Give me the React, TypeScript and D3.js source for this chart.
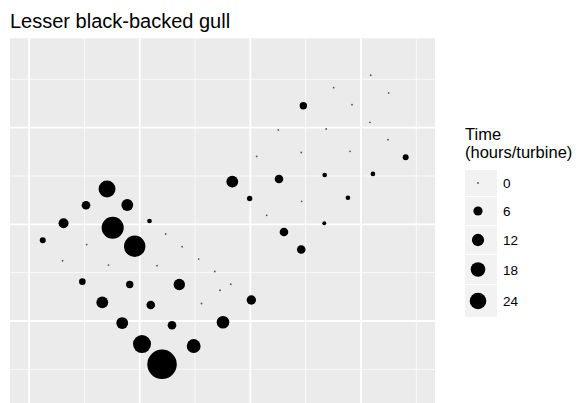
import React from "react";
import * as d3 from "d3";

const title = "Lesser black-backed gull";
const legendTitle = ["Time", "(hours/turbine)"];
const legendBreaks = [0, 6, 12, 18, 24];

const xMajor = [0, 1, 2, 3];
const xMinor = [0.5, 1.5, 2.5, 3.5];
const yMajor = [0, 1, 2];
const yMinor = [-0.5, 0.5, 1.5, 2.5];

// positions (x, y) and time (hours/turbine)
const xs = [
  1.202, 0.756, 0.955, 0.705, 1.021, 1.488, 0.888, 0.662, 0.842, 1.358,
  1.837, 0.312, 0.515, 1.1, 1.292, 1.753, 2.009, 2.304, 2.46, 2.259,
  0.91, 0.482, 2.479, 0.124, 3.404, 1.994, 1.089, 2.672, 3.108, 2.882,
  2.668,
  1.235, 0.303, 0.521, 0.718, 1.157, 1.384, 1.533, 1.679, 1.823, 1.726,
  1.559, 2.148, 2.464, 2.057, 2.46, 2.901, 2.253, 2.686, 3.244, 3.081,
  2.919, 2.753, 3.25, 3.088,
];
const ys = [
  -0.448, 0.965, 0.773, 1.365, -0.238, -0.259, 1.2, 0.193, -0.021, 0.378,
  1.441, 1.011, 1.197, 0.166, -0.044, -0.013, 0.217, 0.921, 0.74, 1.469,
  0.378, 0.407, 2.227, 0.835, 1.693, 1.267, 1.034, 1.51, 1.521, 1.275,
  1.011,
  0.9, 0.623, 0.791, 0.579, 0.572, 0.769, 0.641, 0.512, 0.38, 0.318,
  0.181, 1.093, 1.238, 1.702, 1.743, 1.755, 1.976, 1.986, 1.875, 2.055,
  2.238, 2.413, 2.359, 2.542,
];
const times = [
  84, 45, 42, 25, 29, 16, 11, 11, 11, 10,
  11, 7.4, 5.1, 5.1, 5.1, 12.8, 6.3, 5.1, 5.1, 5.1,
  3.4, 2.5, 3.4, 1.9, 1.9, 1.4, 0.9, 0.9, 0.9, 0.9,
  0.5,
  0, 0, 0, 0, 0, 0, 0, 0, 0, 0,
  0, 0, 0, 0, 0, 0, 0, 0, 0, 0,
  0, 0, 0, 0,
];

export default function App() {
  const W = 585;
  const H = 403;
  const panel = { left: 10, right: 435, top: 38.3, bottom: 403 };
  const x = d3.scaleLinear().domain([-0.172, 3.669]).range([panel.left, panel.right]);
  const y = d3.scaleLinear().domain([-0.848, 2.924]).range([panel.bottom, panel.top]);
  const r = d3.scaleSqrt().domain([0, 24]).range([0.9, 8.3]);

  const pts = xs.map((v, i) => ({ x: v, y: ys[i], t: times[i] }));

  // legend layout
  const keyX = 465;
  const keyW = 32;
  const keyHeights = [26, 28, 28, 29, 32];
  let cy = 170;
  const keys = legendBreaks.map((b, i) => {
    const h = keyHeights[i];
    const k = { b, top: cy, h, rr: r(b) };
    cy += h + 1;
    return k;
  });

  const font = "'Liberation Sans', Arial, sans-serif";

  return (
    <svg
      width={W}
      height={H}
      style={{ position: "absolute", left: 0, top: 0, background: "#fff" }}
    >
      <text x={10} y={28} fontFamily={font} fontSize={20} fill="#000">
        {title}
      </text>
      <defs>
        <clipPath id="pclip">
          <rect x={panel.left} y={panel.top} width={panel.right - panel.left} height={panel.bottom - panel.top} />
        </clipPath>
      </defs>
      <rect
        x={panel.left}
        y={panel.top}
        width={panel.right - panel.left}
        height={panel.bottom - panel.top}
        fill="#ebebeb"
      />
      <g clipPath="url(#pclip)">
        {xMinor.map((v) => (
          <line key={"xm" + v} x1={x(v)} x2={x(v)} y1={panel.top} y2={panel.bottom} stroke="#fff" strokeWidth={0.9} opacity={0.85} />
        ))}
        {yMinor.map((v) => (
          <line key={"ym" + v} y1={y(v)} y2={y(v)} x1={panel.left} x2={panel.right} stroke="#fff" strokeWidth={0.9} opacity={0.85} />
        ))}
        {xMajor.map((v) => (
          <line key={"xM" + v} x1={x(v)} x2={x(v)} y1={panel.top} y2={panel.bottom} stroke="#fff" strokeWidth={1.8} />
        ))}
        {yMajor.map((v) => (
          <line key={"yM" + v} y1={y(v)} y2={y(v)} x1={panel.left} x2={panel.right} stroke="#fff" strokeWidth={1.8} />
        ))}
        {pts.map((p, i) => (
          <circle key={i} cx={x(p.x)} cy={y(p.y)} r={r(p.t)} fill={p.t === 0 ? "#555" : "#000"} />
        ))}
      </g>
      <g fontFamily={font} fill="#000">
        <text x={465} y={140} fontSize={16.5}>{legendTitle[0]}</text>
        <text x={465} y={158} fontSize={16.5}>{legendTitle[1]}</text>
        {keys.map((k) => (
          <g key={k.b}>
            <rect x={keyX} y={k.top} width={keyW} height={k.h} fill="#f2f2f2" />
            <circle cx={keyX + keyW / 2 - 3} cy={k.top + k.h / 2} r={k.rr} fill={k.b === 0 ? "#555" : "#000"} />
            <text x={keyX + keyW + 6} y={k.top + k.h / 2 + 5} fontSize={13.5}>{k.b}</text>
          </g>
        ))}
      </g>
    </svg>
  );
}
